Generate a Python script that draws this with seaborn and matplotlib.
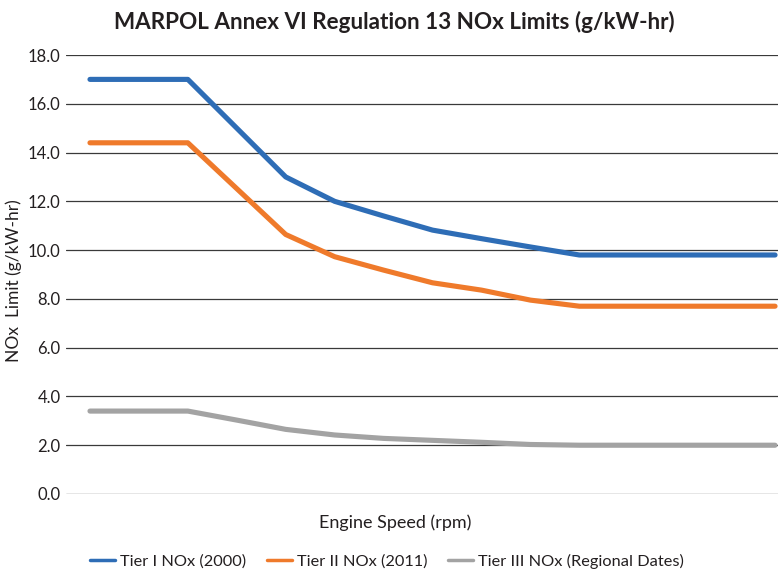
import numpy as np
import pandas as pd
import matplotlib
matplotlib.use("Agg")
import matplotlib.pyplot as plt
import seaborn as sns

# ---- data ----
speed_index = list(range(15))  # evenly spaced engine-speed categories (no tick labels shown)
tier1 = [17.0, 17.0, 17.0, 15.0, 13.0, 12.0, 11.4, 10.82, 10.47, 10.13, 9.8, 9.8, 9.8, 9.8, 9.8]
tier2 = [14.4, 14.4, 14.4, 12.52, 10.64, 9.73, 9.18, 8.66, 8.36, 7.95, 7.7, 7.7, 7.7, 7.7, 7.7]
tier3 = [3.4, 3.4, 3.4, 3.03, 2.65, 2.42, 2.28, 2.2, 2.12, 2.03, 2.0, 2.0, 2.0, 2.0, 2.0]
series_names = ["Tier I NOx (2000)", "Tier II NOx (2011)", "Tier III NOx (Regional Dates)"]
y_ticks = [0, 2, 4, 6, 8, 10, 12, 14, 16, 18]

df = pd.concat([
    pd.DataFrame({"x": speed_index, "y": vals, "series": name})
    for name, vals in zip(series_names, [tier1, tier2, tier3])
])

sns.set_style("white")
plt.rcParams["font.family"] = ["Lato", "DejaVu Sans"]
text_color = "#231F20"

fig = plt.figure(figsize=(7.78, 5.69), dpi=100)
ax = fig.add_axes([66 / 778, 1 - 494 / 569, 1 - 66 / 778, (494 - 55) / 569])

palette = {series_names[0]: "#2E6DB6", series_names[1]: "#EF7A2B", series_names[2]: "#A3A3A3"}
sns.lineplot(data=df, x="x", y="y", hue="series", palette=palette, linewidth=3.7,
             solid_capstyle="round", ax=ax, legend=True, zorder=3)

ax.set_xlim(-0.49, 14.06)
ax.set_ylim(0, 18)
ax.set_yticks(y_ticks)
ax.set_yticklabels([f"{v:.1f}" for v in y_ticks], color=text_color, fontsize=12)
ax.set_xticks([])
ax.tick_params(axis="y", length=0, pad=4)
for s in ax.spines.values():
    s.set_visible(False)
ax.yaxis.grid(True, color="#3a3a3a", linewidth=0.9)
ax.set_axisbelow(True)
ax.set_xlabel("")
ax.set_ylabel("")

fig.text(395 / 778, 1 - 523 / 569, "Engine Speed (rpm)", ha="center", va="center",
         fontsize=13, color=text_color)
fig.text(14 / 778, 1 - 281 / 569, "NOx  Limit (g/kW-hr)", ha="center", va="center",
         rotation=90, fontsize=12.5, color=text_color)
fig.text(394 / 778, 1 - 22 / 569, "MARPOL Annex VI Regulation 13 NOx Limits (g/kW-hr)",
         ha="center", va="center", fontsize=16.2, fontweight="bold", color=text_color)

handles, labels = ax.get_legend_handles_labels()
ax.legend(handles, labels, loc="center", bbox_to_anchor=(387 / 778, 1 - 561 / 569),
          bbox_transform=fig.transFigure, ncol=3, frameon=False, fontsize=11.8,
          handlelength=1.5, handletextpad=0.3, columnspacing=1.3, labelcolor=text_color)
for line in ax.get_legend().get_lines():
    line.set_linewidth(2.5)

fig.savefig("out.png", dpi=100)
